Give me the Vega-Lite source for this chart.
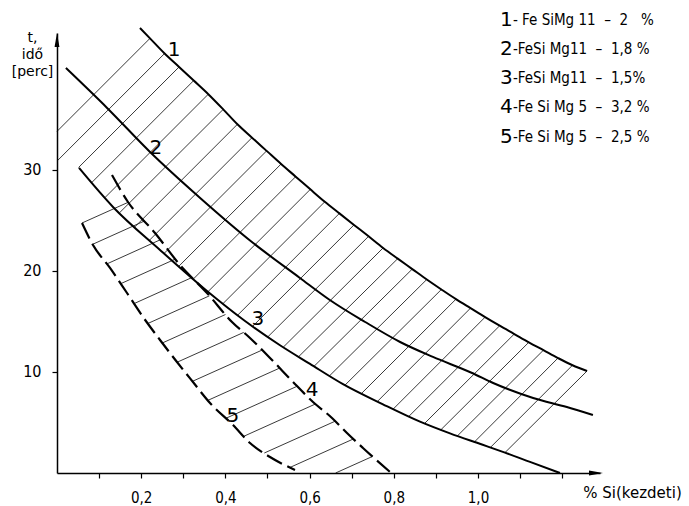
{
  "$schema": "https://vega.github.io/schema/vega-lite/v6.json",
  "width": 543,
  "height": 440,
  "autosize": {"type": "none"},
  "padding": {"left": 57, "top": 33, "right": 89, "bottom": 33},
  "background": "white",
  "config": {"view": {"stroke": null}, "font": "DejaVu Sans"},
  "datasets": {
    "curves": [
      {"c": 1, "x": 0.1971, "y": 44.06}, {"c": 1, "x": 0.2209, "y": 43.03}, {"c": 1, "x": 0.2556, "y": 41.53},
      {"c": 1, "x": 0.29, "y": 40.2}, {"c": 1, "x": 0.3247, "y": 38.85}, {"c": 1, "x": 0.3594, "y": 37.5},
      {"c": 1, "x": 0.3948, "y": 36.0}, {"c": 1, "x": 0.4285, "y": 34.52}, {"c": 1, "x": 0.4632, "y": 33.2},
      {"c": 1, "x": 0.4979, "y": 31.89}, {"c": 1, "x": 0.5323, "y": 30.59}, {"c": 1, "x": 0.567, "y": 29.34},
      {"c": 1, "x": 0.6017, "y": 28.08}, {"c": 1, "x": 0.6361, "y": 26.85}, {"c": 1, "x": 0.6708, "y": 25.7},
      {"c": 1, "x": 0.7055, "y": 24.56}, {"c": 1, "x": 0.7401, "y": 23.43}, {"c": 1, "x": 0.7746, "y": 22.28},
      {"c": 1, "x": 0.8093, "y": 21.22}, {"c": 1, "x": 0.8439, "y": 20.19}, {"c": 1, "x": 0.8784, "y": 19.16},
      {"c": 1, "x": 0.9131, "y": 18.17}, {"c": 1, "x": 0.9477, "y": 17.21}, {"c": 1, "x": 0.9822, "y": 16.32},
      {"c": 1, "x": 1.0169, "y": 15.43}, {"c": 1, "x": 1.0515, "y": 14.58}, {"c": 1, "x": 1.0862, "y": 13.76},
      {"c": 1, "x": 1.1207, "y": 12.94}, {"c": 1, "x": 1.1554, "y": 12.16}, {"c": 1, "x": 1.19, "y": 11.38},
      {"c": 1, "x": 1.2245, "y": 10.67}, {"c": 1, "x": 1.2591, "y": 10.1},
      {"c": 2, "x": 0.021, "y": 40.1}, {"c": 2, "x": 0.119, "y": 36.14}, {"c": 2, "x": 0.221, "y": 31.78},
      {"c": 2, "x": 0.34, "y": 27.23}, {"c": 2, "x": 0.466, "y": 22.77}, {"c": 2, "x": 0.577, "y": 19.31},
      {"c": 2, "x": 0.648, "y": 17.13}, {"c": 2, "x": 0.732, "y": 14.95}, {"c": 2, "x": 0.815, "y": 12.97},
      {"c": 2, "x": 0.893, "y": 11.49}, {"c": 2, "x": 0.986, "y": 9.9}, {"c": 2, "x": 1.036, "y": 8.91},
      {"c": 2, "x": 1.131, "y": 7.43}, {"c": 2, "x": 1.211, "y": 6.53}, {"c": 2, "x": 1.273, "y": 5.74},
      {"c": 3, "x": 0.0523, "y": 30.2}, {"c": 3, "x": 0.133, "y": 26.34}, {"c": 3, "x": 0.2447, "y": 22.08},
      {"c": 3, "x": 0.3563, "y": 18.02}, {"c": 3, "x": 0.4466, "y": 15.05}, {"c": 3, "x": 0.5297, "y": 12.65},
      {"c": 3, "x": 0.601, "y": 10.8}, {"c": 3, "x": 0.6793, "y": 8.8}, {"c": 3, "x": 0.7743, "y": 6.8},
      {"c": 3, "x": 0.8622, "y": 5.08}, {"c": 3, "x": 0.9335, "y": 3.92}, {"c": 3, "x": 1.0095, "y": 2.82},
      {"c": 3, "x": 1.0641, "y": 2.02}, {"c": 3, "x": 1.1235, "y": 1.1}, {"c": 3, "x": 1.1948, "y": 0.0},
      {"c": 4, "x": 0.1306, "y": 29.5}, {"c": 4, "x": 0.1686, "y": 26.83}, {"c": 4, "x": 0.2328, "y": 23.76},
      {"c": 4, "x": 0.2922, "y": 20.59}, {"c": 4, "x": 0.3563, "y": 17.82}, {"c": 4, "x": 0.4157, "y": 14.95},
      {"c": 4, "x": 0.4584, "y": 13.37}, {"c": 4, "x": 0.5107, "y": 11.19}, {"c": 4, "x": 0.5606, "y": 9.01},
      {"c": 4, "x": 0.6081, "y": 7.03}, {"c": 4, "x": 0.6532, "y": 5.45}, {"c": 4, "x": 0.6888, "y": 3.96},
      {"c": 4, "x": 0.7268, "y": 2.48}, {"c": 4, "x": 0.791, "y": 0.1},
      {"c": 5, "x": 0.0594, "y": 24.75}, {"c": 5, "x": 0.0855, "y": 22.57}, {"c": 5, "x": 0.1259, "y": 20.3},
      {"c": 5, "x": 0.1663, "y": 17.82}, {"c": 5, "x": 0.2043, "y": 15.45}, {"c": 5, "x": 0.2447, "y": 13.17},
      {"c": 5, "x": 0.285, "y": 10.99}, {"c": 5, "x": 0.323, "y": 9.01}, {"c": 5, "x": 0.3634, "y": 6.93},
      {"c": 5, "x": 0.4181, "y": 4.75}, {"c": 5, "x": 0.4584, "y": 2.97}, {"c": 5, "x": 0.5059, "y": 1.58},
      {"c": 5, "x": 0.5653, "y": 0.3}
    ],
    "hatchUpper": [
      {"x": 0, "y": 33.82, "x2": 0.2209, "y2": 43.03}, {"x": 0, "y": 30.88, "x2": 0.2556, "y2": 41.53},
      {"x": 0.0511, "y": 30.24, "x2": 0.29, "y2": 40.2}, {"x": 0.0824, "y": 28.75, "x2": 0.3247, "y2": 38.85},
      {"x": 0.1138, "y": 27.26, "x2": 0.3594, "y2": 37.5}, {"x": 0.1482, "y": 25.75, "x2": 0.3948, "y2": 36.0},
      {"x": 0.1848, "y": 24.36, "x2": 0.4285, "y2": 34.52}, {"x": 0.2195, "y": 23.04, "x2": 0.4632, "y2": 33.2},
      {"x": 0.2542, "y": 21.73, "x2": 0.4979, "y2": 31.89}, {"x": 0.2891, "y": 20.46, "x2": 0.5323, "y2": 30.59},
      {"x": 0.3238, "y": 19.2, "x2": 0.567, "y2": 29.34}, {"x": 0.3586, "y": 17.95, "x2": 0.6017, "y2": 28.08},
      {"x": 0.3943, "y": 16.77, "x2": 0.6361, "y2": 26.85}, {"x": 0.429, "y": 15.62, "x2": 0.6708, "y2": 25.7},
      {"x": 0.4644, "y": 14.51, "x2": 0.7055, "y2": 24.56}, {"x": 0.5006, "y": 13.47, "x2": 0.7401, "y2": 23.43},
      {"x": 0.5373, "y": 12.45, "x2": 0.7746, "y2": 22.28}, {"x": 0.5736, "y": 11.5, "x2": 0.8093, "y2": 21.22},
      {"x": 0.6105, "y": 10.56, "x2": 0.8439, "y2": 20.19}, {"x": 0.6473, "y": 9.62, "x2": 0.8784, "y2": 19.16},
      {"x": 0.6841, "y": 8.7, "x2": 0.9131, "y2": 18.17}, {"x": 0.723, "y": 7.86, "x2": 0.9477, "y2": 17.21},
      {"x": 0.761, "y": 7.08, "x2": 0.9822, "y2": 16.32}, {"x": 0.7986, "y": 6.33, "x2": 1.0169, "y2": 15.43},
      {"x": 0.8356, "y": 5.6, "x2": 1.0515, "y2": 14.58}, {"x": 0.8729, "y": 4.9, "x2": 1.0862, "y2": 13.76},
      {"x": 0.9116, "y": 4.27, "x2": 1.1207, "y2": 12.94}, {"x": 0.9508, "y": 3.66, "x2": 1.1554, "y2": 12.16},
      {"x": 0.9917, "y": 3.08, "x2": 1.19, "y2": 11.38}, {"x": 1.0295, "y": 2.53, "x2": 1.2245, "y2": 10.67},
      {"x": 1.0641, "y": 2.02, "x2": 1.2591, "y2": 10.1}
    ],
    "hatchLower": [
      {"x": 0.0594, "y": 24.75, "x2": 0.1691, "y2": 26.8}, {"x": 0.0846, "y": 22.64, "x2": 0.2078, "y2": 24.95},
      {"x": 0.1185, "y": 20.7, "x2": 0.2454, "y2": 23.09}, {"x": 0.1513, "y": 18.74, "x2": 0.2812, "y2": 21.18},
      {"x": 0.1831, "y": 16.77, "x2": 0.3209, "y2": 19.36}, {"x": 0.2157, "y": 14.8, "x2": 0.362, "y2": 17.54},
      {"x": 0.2501, "y": 12.87, "x2": 0.4002, "y2": 15.69}, {"x": 0.2855, "y": 10.97, "x2": 0.4435, "y2": 13.92},
      {"x": 0.3219, "y": 9.08, "x2": 0.4872, "y2": 12.17}, {"x": 0.3584, "y": 7.19, "x2": 0.529, "y2": 10.39},
      {"x": 0.4014, "y": 5.42, "x2": 0.5705, "y2": 8.59}, {"x": 0.4435, "y": 3.63, "x2": 0.6138, "y2": 6.83},
      {"x": 0.4924, "y": 1.98, "x2": 0.6608, "y2": 5.13}, {"x": 0.5534, "y": 0.55, "x2": 0.704, "y2": 3.37},
      {"x": 0.6618, "y": 0.0, "x2": 0.7494, "y2": 1.64}
    ],
    "curveLabels": [
      {"t": "1", "x": 0.278, "y": 41.9}, {"t": "2", "x": 0.235, "y": 32.18}, {"t": "3", "x": 0.477, "y": 15.25},
      {"t": "4", "x": 0.606, "y": 8.22}, {"t": "5", "x": 0.418, "y": 5.64}
    ],
    "legend": [
      {"n": "1", "desc": "- Fe SiMg 11 \u00a0–\u00a0 2 \u00a0\u00a0%", "x": 1.052, "x2": 1.083, "y": 44.85},
      {"n": "2", "desc": "-FeSi Mg11 \u00a0–\u00a0 1,8 %", "x": 1.052, "x2": 1.083, "y": 41.98},
      {"n": "3", "desc": "-FeSi Mg11 \u00a0–\u00a0 1,5%", "x": 1.052, "x2": 1.083, "y": 39.11},
      {"n": "4", "desc": "-Fe Si Mg 5 \u00a0–\u00a0 3,2 %", "x": 1.052, "x2": 1.083, "y": 36.24},
      {"n": "5", "desc": "-Fe Si Mg 5 \u00a0–\u00a0 2,5 %", "x": 1.052, "x2": 1.083, "y": 33.27}
    ],
    "arrows": [
      {"dir": "up", "x": 0, "y": 42.87},
      {"dir": "right", "x": 1.2803, "y": 0}
    ]
  },
  "layer": [
    {
      "data": {"name": "hatchUpper"},
      "mark": {"type": "rule", "stroke": "#222222", "strokeWidth": 0.9},
      "encoding": {
        "x": {
          "field": "x", "type": "quantitative",
          "scale": {"domain": [0, 1.2898], "nice": false, "zero": false},
          "axis": {
            "values": [0.1, 0.2, 0.3, 0.4, 0.5, 0.6, 0.7, 0.8, 0.9, 1.0, 1.1, 1.2],
            "grid": false, "domainColor": "black", "domainWidth": 1.5,
            "tickColor": "black", "tickSize": 5, "tickWidth": 1.2,
            "labelExpr": "(round(datum.value*10)%2==0 && datum.value<1.05) ? replace(format(datum.value,'.1f'),'.',',') : ''",
            "labelFont": "DejaVu Sans Condensed", "labelFontSize": 15, "labelPadding": 12,
            "labelColor": "black", "labelFlush": false, "labelOverlap": false,
            "title": "% Si(kezdeti)", "titleX": 575, "titleY": 19, "titleAlign": "center",
            "titleBaseline": "middle", "titleFontWeight": "normal", "titleFontSize": 15,
            "titleFont": "DejaVu Sans", "titleColor": "black", "zindex": 1
          }
        },
        "y": {
          "field": "y", "type": "quantitative",
          "scale": {"domain": [0, 43.56], "nice": false, "zero": false},
          "axis": {
            "values": [10, 20, 30], "grid": false, "domainColor": "black", "domainWidth": 1.5,
            "tickColor": "black", "tickSize": 5, "tickWidth": 1.2,
            "labelFont": "DejaVu Sans Condensed", "labelFontSize": 16, "labelPadding": 11, "labelColor": "black",
            "title": ["t,", "idő", "[perc]"], "titleAngle": 0, "titleX": -25, "titleY": -3,
            "titleAlign": "center", "titleBaseline": "top", "titleFontWeight": "normal",
            "titleFontSize": 14, "titleLineHeight": 17, "titleFont": "DejaVu Sans", "titleColor": "black",
            "zindex": 1
          }
        },
        "x2": {"field": "x2"},
        "y2": {"field": "y2"}
      }
    },
    {
      "data": {"name": "hatchLower"},
      "mark": {"type": "rule", "stroke": "#222222", "strokeWidth": 0.9},
      "encoding": {
        "x": {"field": "x", "type": "quantitative", "scale": {"domain": [0, 1.2898], "nice": false, "zero": false}},
        "y": {"field": "y", "type": "quantitative", "scale": {"domain": [0, 43.56], "nice": false, "zero": false}},
        "x2": {"field": "x2"},
        "y2": {"field": "y2"}
      }
    },
    {
      "data": {"name": "curves"},
      "transform": [{"filter": "datum.c <= 3"}],
      "mark": {"type": "line", "stroke": "black", "strokeWidth": 2, "interpolate": "monotone"},
      "encoding": {
        "x": {"field": "x", "type": "quantitative", "scale": {"domain": [0, 1.2898], "nice": false, "zero": false}},
        "y": {"field": "y", "type": "quantitative", "scale": {"domain": [0, 43.56], "nice": false, "zero": false}},
        "detail": {"field": "c", "type": "nominal"}
      }
    },
    {
      "data": {"name": "curves"},
      "transform": [{"filter": "datum.c >= 4"}],
      "mark": {"type": "line", "stroke": "black", "strokeWidth": 2.2, "strokeDash": [17, 6], "interpolate": "monotone"},
      "encoding": {
        "x": {"field": "x", "type": "quantitative", "scale": {"domain": [0, 1.2898], "nice": false, "zero": false}},
        "y": {"field": "y", "type": "quantitative", "scale": {"domain": [0, 43.56], "nice": false, "zero": false}},
        "detail": {"field": "c", "type": "nominal"}
      }
    },
    {
      "data": {"name": "curveLabels"},
      "mark": {"type": "text", "fontSize": 20, "font": "DejaVu Sans", "align": "center", "baseline": "middle", "color": "black"},
      "encoding": {
        "x": {"field": "x", "type": "quantitative", "scale": {"domain": [0, 1.2898], "nice": false, "zero": false}},
        "y": {"field": "y", "type": "quantitative", "scale": {"domain": [0, 43.56], "nice": false, "zero": false}},
        "text": {"field": "t"}
      }
    },
    {
      "data": {"name": "legend"},
      "mark": {"type": "text", "fontSize": 20, "font": "DejaVu Sans", "align": "left", "baseline": "middle", "color": "black"},
      "encoding": {
        "x": {"field": "x", "type": "quantitative", "scale": {"domain": [0, 1.2898], "nice": false, "zero": false}},
        "y": {"field": "y", "type": "quantitative", "scale": {"domain": [0, 43.56], "nice": false, "zero": false}},
        "text": {"field": "n"}
      }
    },
    {
      "data": {"name": "legend"},
      "mark": {"type": "text", "fontSize": 15, "font": "DejaVu Sans Condensed", "align": "left", "baseline": "middle", "color": "black"},
      "encoding": {
        "x": {"field": "x2", "type": "quantitative", "scale": {"domain": [0, 1.2898], "nice": false, "zero": false}},
        "y": {"field": "y", "type": "quantitative", "scale": {"domain": [0, 43.56], "nice": false, "zero": false}},
        "text": {"field": "desc"}
      }
    },
    {
      "data": {"name": "arrows"},
      "mark": {"type": "point", "filled": true, "color": "black", "size": 196, "opacity": 1},
      "encoding": {
        "x": {"field": "x", "type": "quantitative", "scale": {"domain": [0, 1.2898], "nice": false, "zero": false}},
        "y": {"field": "y", "type": "quantitative", "scale": {"domain": [0, 43.56], "nice": false, "zero": false}},
        "shape": {
          "field": "dir", "type": "nominal",
          "scale": {"domain": ["up", "right"], "range": ["M0,-1L0.35,1L-0.35,1Z", "M1,0L-1,0.35L-1,-0.35Z"]},
          "legend": null
        }
      }
    }
  ]
}
